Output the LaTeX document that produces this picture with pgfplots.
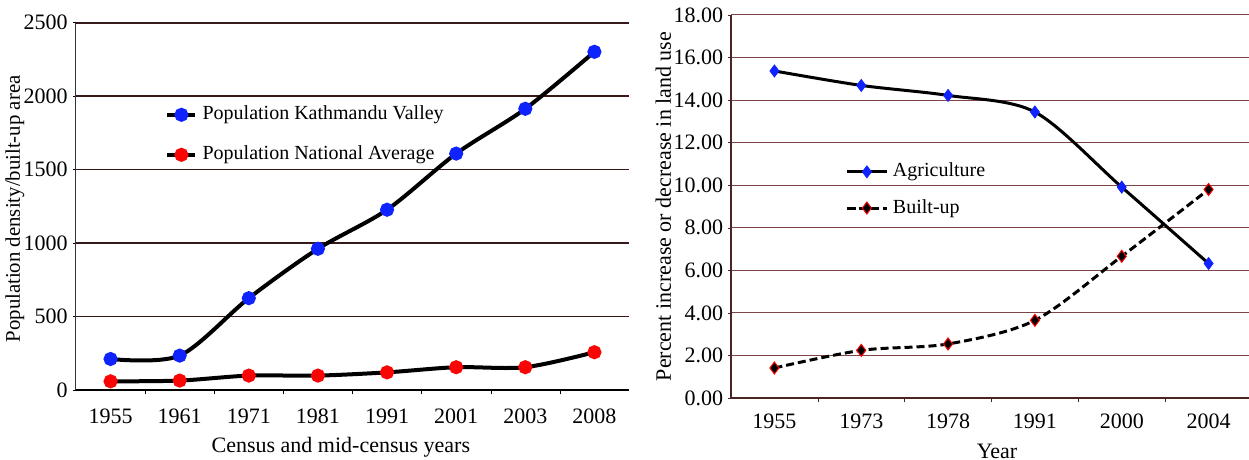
\documentclass[border=0pt]{standalone}
\usepackage{fontspec}
\setmainfont{Liberation Serif}
\usepackage{pgfplots}
\pgfplotsset{compat=1.18}

\definecolor{kblue}{RGB}{15,35,255}
\definecolor{kred}{RGB}{250,5,5}
\definecolor{gridL}{RGB}{55,25,25}
\definecolor{gridR}{RGB}{125,70,70}
\definecolor{axR}{RGB}{75,35,35}

\pgfplotsset{
  common/.style={
    scale only axis,
    axis x line*=bottom, axis y line*=left,
    tick align=outside,
    major tick length=1.5pt,
    font=\fontsize{10}{12}\selectfont,
    tick label style={font=\fontsize{11}{13}\selectfont},
    /pgf/number format/assume math mode=true,
    /pgf/number format/1000 sep={},
    xtick style={draw=none},
    xticklabel style={anchor=center},
    yticklabel style={anchor=east, inner sep=0pt},
    extra x tick labels={},
    legend cell align=left,
  },
}

\begin{document}
\begin{tikzpicture}
\useasboundingbox (0,0) rectangle (624.5pt,230pt);

% left panel
\begin{axis}[common,
  at={(38pt,35pt)}, anchor=south west,
  width=276.5pt, height=183.65pt,
  xmin=-0.5, xmax=7.5, ymin=0, ymax=2500,
  xtick={0,...,7},
  xticklabels={1955,1961,1971,1981,1991,2001,2003,2008},
  extra x ticks={0.5,1.5,...,6.5},
  extra x tick style={major tick length=2.2pt, xtick style={draw=black}},
  ytick={0,500,...,2500},
  ymajorgrids,
  grid style={gridL, line width=0.85pt},
  x axis line style={black, line width=1pt},
  y axis line style={black!80, line width=0.5pt},
  ytick style={black},
  xticklabel style={yshift=-11.5pt},
  yticklabel style={xshift=-2.5pt},
  xlabel={Census and mid-census years},
  ylabel={Population density/built-up area},
  every axis x label/.style={at={(axis description cs:0.479,0)}, anchor=center, yshift=-28.5pt,
    font=\fontsize{11}{13}\selectfont},
  every axis y label/.style={at={(axis description cs:-0.1103,0.493)}, anchor=center, rotate=90,
    font=\fontsize{10.4}{12}\selectfont},
  legend style={at={(axis description cs:0.161,0.789)}, anchor=north west,
    draw=none, fill=none, inner sep=0pt, row sep=5.8pt,
    nodes={inner sep=2.6pt, text height=7pt, text depth=2pt}},
  legend image code/.code={
    \draw[mark repeat=2, mark phase=2] plot coordinates {(0pt,0pt) (7pt,0pt) (14pt,0pt)};},
]
\addplot[black, line width=2pt, smooth, mark=*, mark size=2.5pt,
  mark options={fill=kblue, draw=kblue}] coordinates {
  (0,211) (1,234) (2,625) (3,961) (4,1227) (5,1609) (6,1914) (7,2302)
};
\addplot[black, line width=2pt, smooth, mark=*, mark size=2.5pt,
  mark options={fill=kred, draw=kred}] coordinates {
  (0,59) (1,64) (2,98) (3,98) (4,120) (5,155) (6,155) (7,257)
};
\legend{Population Kathmandu Valley, Population National Average}
\end{axis}

% right panel
\begin{axis}[common,
  at={(365.5pt,31pt)}, anchor=south west,
  width=260.5pt, height=191.5pt,
  xmin=-0.5, xmax=5.5, ymin=0, ymax=18,
  xtick={0,...,5},
  xticklabels={1955,1973,1978,1991,2000,2004},
  extra x ticks={0.5,1.5,...,4.5},
  extra x tick style={major tick length=2.2pt, xtick style={draw=axR}},
  ytick={0,2,...,18},
  yticklabel={\pgfmathprintnumber[fixed, fixed zerofill, precision=2]{\tick}},
  ymajorgrids,
  grid style={gridR, line width=0.5pt},
  x axis line style={axR, line width=0.6pt},
  y axis line style={axR, line width=0.6pt},
  ytick style={axR},
  xticklabel style={yshift=-10.3pt},
  yticklabel style={xshift=-2.2pt},
  xlabel={Year},
  ylabel={Percent increase or decrease in land use},
  every axis x label/.style={at={(axis description cs:0.5106,0)}, anchor=center, yshift=-26.5pt,
    font=\fontsize{11}{13}\selectfont},
  every axis y label/.style={at={(axis description cs:-0.1297,0.5)}, anchor=center, rotate=90,
    font=\fontsize{11}{13}\selectfont},
  legend style={at={(axis description cs:0.2188,0.627)}, anchor=north west,
    draw=none, fill=none, inner sep=0pt, row sep=4.5pt,
    nodes={inner sep=2.3pt, text height=7pt, text depth=2pt}},
  legend image code/.code={
    \draw[mark repeat=2, mark phase=2] plot coordinates {(0pt,0pt) (10pt,0pt) (20pt,0pt)};},
]
\addplot[black, line width=1.5pt, smooth, mark=diamond*, mark size=3pt,
  mark options={fill=kblue, draw=kblue, solid, line width=0.4pt}] coordinates {
  (0,15.37) (1,14.69) (2,14.22) (3,13.44) (4,9.91) (5,6.32)
};
\addplot[black, line width=1.5pt, smooth, dash pattern=on 4pt off 2pt, mark=diamond*, mark size=3pt,
  mark options={fill=black, draw=red, solid, line width=0.5pt}] coordinates {
  (0,1.41) (1,2.24) (2,2.54) (3,3.65) (4,6.66) (5,9.80)
};
\legend{Agriculture, Built-up}
\end{axis}
\end{tikzpicture}
\end{document}
